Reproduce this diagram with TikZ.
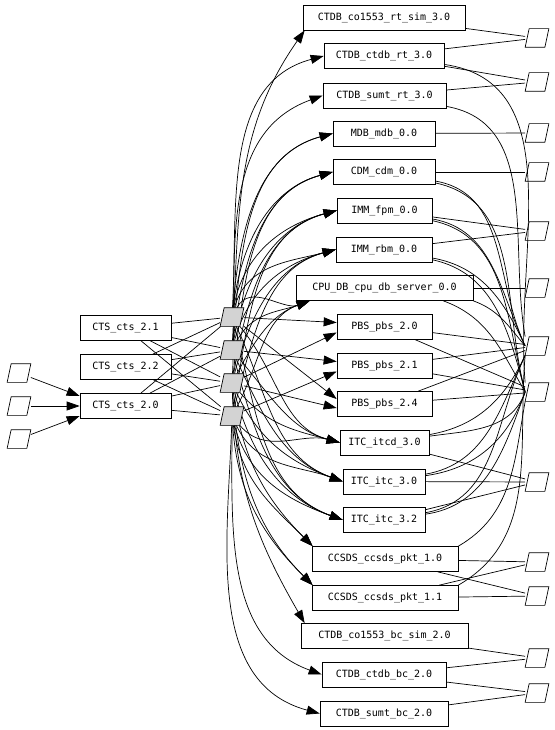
\documentclass[tikz,border=0pt]{standalone}
\usepackage{fontspec}
\newfontfamily\monof{DejaVu Sans Mono}
\usetikzlibrary{arrows.meta}
\definecolor{graypara}{RGB}{211,211,211}
\newcommand\bxt[1]{#1\hspace{6pt}}
\begin{document}
\begin{tikzpicture}[x=1pt,y=1pt,line width=0.7pt,
  box/.style={draw,rectangle,minimum height=25pt,inner sep=0pt,font=\monof\fontsize{10}{12}\selectfont},
  para/.style={rectangle,minimum width=23pt,minimum height=18pt,inner sep=0pt},
  parashape/.style={draw,line join=miter},
  arr/.style={-{Triangle[length=13pt,width=9pt]}}]
\useasboundingbox (0,0) rectangle (554,-730);
% left inputs
\node[para] (l1) at (19,-373) {};
\node[para] (l2) at (19,-406) {};
\node[para] (l3) at (19,-439) {};
% CTS
\node[box,minimum width=91pt] (c21) at (125.5,-328) {\bxt{CTS\_cts\_2.1}};
\node[box,minimum width=91pt] (c22) at (125.5,-367) {\bxt{CTS\_cts\_2.2}};
\node[box,minimum width=91pt] (c20) at (125.5,-406) {\bxt{CTS\_cts\_2.0}};
% gray
\node[para] (g1) at (232,-317) {};
\node[para] (g2) at (232,-350) {};
\node[para] (g3) at (232,-383) {};
\node[para] (g4) at (232,-416) {};
% right boxes
\node[box,minimum width=162pt] (rtsim) at (384,-17.5) {\bxt{CTDB\_co1553\_rt\_sim\_3.0}};
\node[box,minimum width=120pt] (ctdbrt) at (384,-56) {\bxt{CTDB\_ctdb\_rt\_3.0}};
\node[box,minimum width=123pt] (sumtrt) at (384.5,-95.5) {\bxt{CTDB\_sumt\_rt\_3.0}};
\node[box,minimum width=102pt] (mdb) at (384,-133.5) {\bxt{MDB\_mdb\_0.0}};
\node[box,minimum width=102pt] (cdm) at (384,-172) {\bxt{CDM\_cdm\_0.0}};
\node[box,minimum width=95pt] (fpm) at (384.5,-210.5) {\bxt{IMM\_fpm\_0.0}};
\node[box,minimum width=96pt] (rbm) at (384,-249.5) {\bxt{IMM\_rbm\_0.0}};
\node[box,minimum width=177pt] (cpu) at (384.5,-288) {\bxt{CPU\_DB\_cpu\_db\_server\_0.0}};
\node[box,minimum width=95pt] (pbs20) at (384.5,-326.5) {\bxt{PBS\_pbs\_2.0}};
\node[box,minimum width=95pt] (pbs21) at (384.5,-365.5) {\bxt{PBS\_pbs\_2.1}};
\node[box,minimum width=95pt] (pbs24) at (384.5,-404) {\bxt{PBS\_pbs\_2.4}};
\node[box,minimum width=89pt] (itcd) at (384.5,-442.5) {\bxt{ITC\_itcd\_3.0}};
\node[box,minimum width=82pt] (itc30) at (384,-481.5) {\bxt{ITC\_itc\_3.0}};
\node[box,minimum width=82pt] (itc32) at (384,-520) {\bxt{ITC\_itc\_3.2}};
\node[box,minimum width=146pt] (cc10) at (385,-559) {\bxt{CCSDS\_ccsds\_pkt\_1.0}};
\node[box,minimum width=146pt] (cc11) at (385,-598) {\bxt{CCSDS\_ccsds\_pkt\_1.1}};
\node[box,minimum width=167pt] (bcsim) at (384.5,-636) {\bxt{CTDB\_co1553\_bc\_sim\_2.0}};
\node[box,minimum width=124pt] (ctdbbc) at (384,-674.5) {\bxt{CTDB\_ctdb\_bc\_2.0}};
\node[box,minimum width=128pt] (sumtbc) at (384,-713.5) {\bxt{CTDB\_sumt\_bc\_2.0}};
% right outputs
\node[para] (r1) at (537,-38) {};
\node[para] (r2) at (537,-82) {};
\node[para] (r3) at (537,-133) {};
\node[para] (r4) at (537,-172) {};
\node[para] (r5) at (537,-231) {};
\node[para] (r6) at (537,-288) {};
\node[para] (r7) at (537,-346) {};
\node[para] (r8) at (537,-392) {};
\node[para] (r9) at (537,-482) {};
\node[para] (r10) at (537,-562) {};
\node[para] (r11) at (537,-596) {};
\node[para] (r12) at (537,-658) {};
\node[para] (r13) at (537,-693) {};
% parallelogram outlines
\foreach \n in {l1,l2,l3,r1,r2,r3,r4,r5,r6,r7,r8,r9,r10,r11,r12,r13}{
  \draw[parashape] ([xshift=4pt]\n.north west) -- (\n.north east) -- ([xshift=-4pt]\n.south east) -- (\n.south west) -- cycle;}
% inputs to CTS 2.0
\draw[arr] (l1) -- ([yshift=10pt]c20.west);
\draw[arr] (l2) -- (c20.west);
\draw[arr] (l3) -- ([yshift=-10pt]c20.west);
% CTS to gray
\foreach \c in {c21,c22,c20}{\foreach \g in {g1,g2,g3,g4}{\draw (\c) -- (\g);}}
% gray to right boxes (upward)
\draw[arr] (g2) to[out=87,in=235] ([xshift=2pt]rtsim.south west);
\draw[arr] (g1) to[out=87,in=195] (ctdbrt.west);
\draw[arr] (g3) to[out=87,in=200] (sumtrt.west);
\foreach \g in {g1,g2}{\draw[arr] (\g) to[out=85,in=195] (mdb.west);}
\foreach \g in {g1,g2,g3}{\draw[arr] (\g) to[out=83,in=195] (cdm.west);}
\foreach \g in {g1,g2,g3,g4}{\draw[arr] (\g) to[out=80,in=195] (fpm.west);}
\foreach \g in {g1,g2,g3,g4}{\draw[arr] (\g) to[out=75,in=195] (rbm.west);}
\foreach \g in {g1,g2,g3,g4}{\draw[arr] (\g) to[out=62,in=200] ([xshift=14pt]cpu.south west);}
% PBS
\draw[arr] (g1) -- ([yshift=4pt]pbs20.west);
\draw[arr] (g3) -- ([yshift=-6pt]pbs20.west);
\draw[arr] (g2) -- ([yshift=4pt]pbs21.west);
\draw[arr] (g4) -- ([yshift=-6pt]pbs21.west);
\draw[arr] (g1) -- ([yshift=5pt]pbs24.west);
\draw[arr] (g3) -- ([yshift=-4pt]pbs24.west);
% ITC
\foreach \g in {g1,g2,g3,g4}{\draw[arr] (\g) to[out=-50,in=165] (itcd.west);}
\foreach \g in {g1,g2,g3,g4}{\draw[arr] (\g) to[out=-65,in=160] (itc30.west);}
\foreach \g in {g1,g2,g3,g4}{\draw[arr] (\g) to[out=-75,in=160] (itc32.west);}
% lower
\foreach \g in {g3,g4}{\draw[arr] (\g) to[out=-82,in=135] ([xshift=1pt]cc10.north west);}
\foreach \g in {g3,g4}{\draw[arr] (\g) to[out=-86,in=135] ([xshift=1pt]cc11.north west);}
\draw[arr] (g3) to[out=-88,in=120] ([xshift=4pt]bcsim.north west);
\draw[arr] (g4) to[out=-90,in=160] (ctdbbc.west);
\draw[arr] (g4) to[out=-92,in=165] (sumtbc.west);
% gray nodes drawn over edges
\foreach \n in {g1,g2,g3,g4}{
  \draw[parashape,fill=graypara] ([xshift=4pt]\n.north west) -- (\n.north east) -- ([xshift=-4pt]\n.south east) -- (\n.south west) -- cycle;}
% right side straight
\draw (rtsim) -- (r1);
\draw (ctdbrt) -- (r1);
\draw (ctdbrt) -- (r2);
\draw (sumtrt) -- (r2);
\draw (mdb) -- (r3);
\draw (cdm) -- (r4);
\draw (fpm) -- (r5);
\draw (rbm) -- (r5);
\draw (cpu) -- (r6);
\foreach \p in {pbs20,pbs21,pbs24}{\draw (\p) -- (r7); \draw (\p) -- (r8);}
\draw (itcd) -- (r9);
\draw (itc30) -- (r9);
\draw (itc32) -- (r9);
\foreach \p in {cc10,cc11}{\draw (\p) -- (r10); \draw (\p) -- (r11);}
\draw (bcsim) -- (r12);
\draw (ctdbbc) -- (r12);
\draw (ctdbbc) -- (r13);
\draw (sumtbc) -- (r13);
% right side curves
\draw (ctdbrt) to[out=-8,in=95] (r8.north west);
\draw (sumtrt) to[out=-10,in=100] (r7.north west);
\foreach \n in {cdm,fpm,rbm}{\draw (\n) to[out=-10,in=115] (r7.west); \draw (\n) to[out=-12,in=105] (r8.west);}
\draw (cpu.south east) to[out=-20,in=130] (r7.west);
\draw ([xshift=-30pt]cpu.south east) to[out=-20,in=120] (r8.west);
\foreach \n in {itcd,itc30,itc32}{\draw (\n) to[out=10,in=-115] (r7.south west); \draw (\n) to[out=8,in=-110] (r8.west);}
\draw (cc10.north east) to[out=30,in=-100] (r8.south west);
\draw (cc11.north east) to[out=30,in=-95] (r7.south west);
\end{tikzpicture}
\end{document}
